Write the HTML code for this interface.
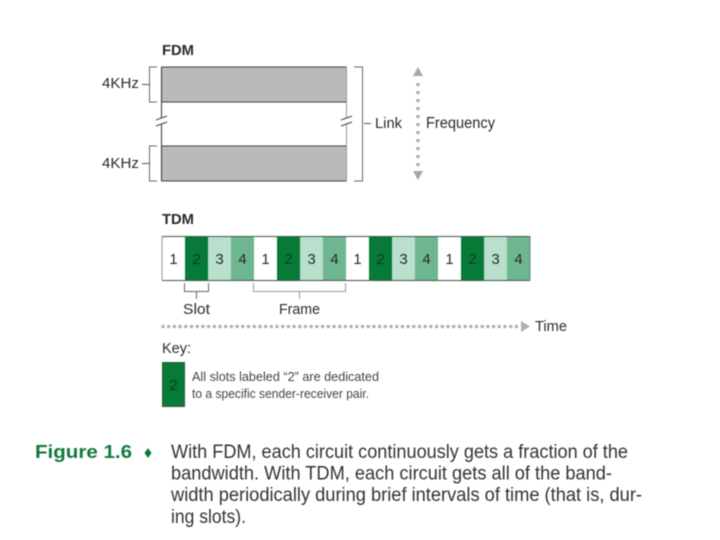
<!DOCTYPE html>
<html><head><meta charset="utf-8"><style>
html,body{margin:0;padding:0;background:#fff}
svg{display:block;filter:blur(0.45px)}
text{font-family:"Liberation Sans",sans-serif;fill:#2a2a2a}
</style></head><body>
<svg width="720" height="540" viewBox="0 0 720 540" xmlns="http://www.w3.org/2000/svg">
<rect width="720" height="540" fill="#fff"/>
<text x="162" y="55" font-size="14.5" font-weight="bold" textLength="32" lengthAdjust="spacingAndGlyphs">FDM</text>
<rect x="161.500" y="67" width="185" height="35" fill="#b9babc"/>
<rect x="161.500" y="146" width="185" height="35" fill="#b9babc"/>
<g fill="none" stroke="#444" stroke-width="1">
<path d="M161.500 67H346.500M161.500 102H346.500M161.500 146H346.500M161.500 181H346.500"/>
<path d="M161.500 67V181" stroke="#333"/>
<path d="M346.500 67V181" stroke="#999"/>
<path d="M157 67H149.500V102H157M157 146H149.500V181H157" stroke="#666"/>
<path d="M354 67H362.500V181H354" stroke="#666"/>
<path d="M142 84.500H149M142 163.500H149M364 123.500H371" stroke="#555"/>
</g>
<rect x="156" y="118.500" width="11" height="5" fill="#fff" transform="rotate(-20 161.500 121)"/>
<rect x="341" y="118.500" width="11" height="5" fill="#fff" transform="rotate(-20 346.500 121)"/>
<path d="M156 120L167 116M156 126L167 122M341 120L352 116M341 126L352 122" stroke="#444" fill="none"/>
<text x="102" y="88" font-size="15" textLength="37" lengthAdjust="spacingAndGlyphs">4KHz</text>
<text x="102" y="168" font-size="15" textLength="37" lengthAdjust="spacingAndGlyphs">4KHz</text>
<text x="375" y="128" font-size="15" textLength="27" lengthAdjust="spacingAndGlyphs">Link</text>
<text x="426" y="128" font-size="15.500" textLength="69" lengthAdjust="spacingAndGlyphs">Frequency</text>
<path d="M418 67L423 76H413Z M418 180L423 171H413Z" fill="#a5a7a9"/>
<path d="M418 84.500V168" stroke="#a9abad" stroke-width="3.500" stroke-linecap="round" stroke-dasharray="0 8" fill="none"/>

<text x="162" y="224" font-size="14.500" font-weight="bold" textLength="32" lengthAdjust="spacingAndGlyphs">TDM</text>
<g>
<rect x="162" y="236" width="23" height="44" fill="#fff"/><rect x="185" y="236" width="23" height="44" fill="#067a36"/><rect x="208" y="236" width="23" height="44" fill="#b9e0cc"/><rect x="231" y="236" width="23" height="44" fill="#6db68f"/>
<rect x="254" y="236" width="23" height="44" fill="#fff"/><rect x="277" y="236" width="23" height="44" fill="#067a36"/><rect x="300" y="236" width="23" height="44" fill="#b9e0cc"/><rect x="323" y="236" width="23" height="44" fill="#6db68f"/>
<rect x="346" y="236" width="23" height="44" fill="#fff"/><rect x="369" y="236" width="23" height="44" fill="#067a36"/><rect x="392" y="236" width="23" height="44" fill="#b9e0cc"/><rect x="415" y="236" width="23" height="44" fill="#6db68f"/>
<rect x="438" y="236" width="23" height="44" fill="#fff"/><rect x="461" y="236" width="23" height="44" fill="#067a36"/><rect x="484" y="236" width="23" height="44" fill="#b9e0cc"/><rect x="507" y="236" width="23" height="44" fill="#6db68f"/>
</g>
<path d="M162 236.500H530M162 280.500H530" stroke="#3d5a4a" stroke-width="1" fill="none"/>
<path d="M162 236V281" stroke="#999" fill="none"/>
<path d="M530 236V281" stroke="#6a8a78" fill="none"/>
<g font-size="15" text-anchor="middle">
<text x="173.500" y="264">1</text><text x="196.500" y="264" style="fill:#0d3d20">2</text><text x="219.500" y="264">3</text><text x="242.500" y="264">4</text>
<text x="265.500" y="264">1</text><text x="288.500" y="264" style="fill:#0d3d20">2</text><text x="311.500" y="264">3</text><text x="334.500" y="264">4</text>
<text x="357.500" y="264">1</text><text x="380.500" y="264" style="fill:#0d3d20">2</text><text x="403.500" y="264">3</text><text x="426.500" y="264">4</text>
<text x="449.500" y="264">1</text><text x="472.500" y="264" style="fill:#0d3d20">2</text><text x="495.500" y="264">3</text><text x="518.500" y="264">4</text>
</g>
<g fill="none" stroke="#666" stroke-width="1">
<path d="M184.500 283V291.500H208.500V283M196.500 291.500V299"/>
<path d="M253.500 283V291.500H345.500V283M299.500 291.500V299" stroke="#999"/>
</g>
<text x="183" y="314" font-size="15" textLength="27" lengthAdjust="spacingAndGlyphs">Slot</text>
<text x="279" y="314" font-size="15" textLength="41" lengthAdjust="spacingAndGlyphs">Frame</text>
<path d="M163 326.500H520" stroke="#aeb0b2" stroke-width="3.500" stroke-linecap="round" stroke-dasharray="0 5.700" fill="none"/>
<path d="M521 321L530 326.500L521 332Z" fill="#aeb0b2"/>
<text x="535" y="331" font-size="15" textLength="32" lengthAdjust="spacingAndGlyphs">Time</text>
<text x="162" y="353" font-size="15" textLength="29" lengthAdjust="spacingAndGlyphs">Key:</text>
<rect x="162.500" y="362.500" width="22" height="44" fill="#067a36" stroke="#2f5a40"/>
<text x="173.500" y="390" font-size="15" text-anchor="middle" style="fill:#0d3d20">2</text>
<text x="192" y="381" font-size="12.500" textLength="187" lengthAdjust="spacingAndGlyphs" style="fill:#444">All slots labeled “2” are dedicated</text>
<text x="192" y="398" font-size="12.500" textLength="177" lengthAdjust="spacingAndGlyphs" style="fill:#444">to a specific sender-receiver pair.</text>

<text x="35" y="458" font-size="18.500" font-weight="bold" textLength="97" lengthAdjust="spacingAndGlyphs" style="fill:#0f7a3c">Figure 1.6</text>
<path d="M148 448L151.500 453L148 458L144.500 453Z" fill="#0f7a3c"/>
<g font-size="19">
<text x="171" y="458" textLength="457" lengthAdjust="spacingAndGlyphs" style="fill:#333">With FDM, each circuit continuously gets a fraction of the</text>
<text x="171" y="479.500" textLength="441" lengthAdjust="spacingAndGlyphs" style="fill:#333">bandwidth. With TDM, each circuit gets all of the band-</text>
<text x="171" y="501" textLength="471" lengthAdjust="spacingAndGlyphs" style="fill:#333">width periodically during brief intervals of time (that is, dur-</text>
<text x="171" y="523" textLength="75" lengthAdjust="spacingAndGlyphs" style="fill:#333">ing slots).</text>
</g>
</svg>
</body></html>
